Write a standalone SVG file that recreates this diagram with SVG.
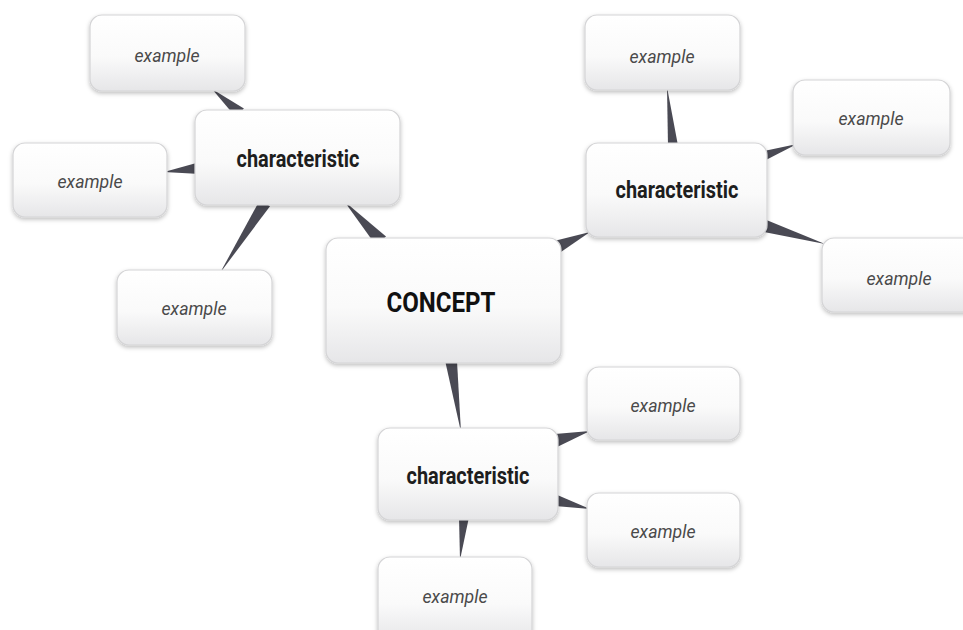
<svg xmlns="http://www.w3.org/2000/svg" width="963" height="630" viewBox="0 0 963 630">
<defs>
<linearGradient id="g" x1="0" y1="0" x2="0" y2="1">
<stop offset="0" stop-color="#ffffff"/>
<stop offset="0.55" stop-color="#fafafa"/>
<stop offset="1" stop-color="#e6e6e8"/>
</linearGradient>
<filter id="sh" x="-10%" y="-10%" width="120%" height="130%">
<feDropShadow dx="0" dy="2" stdDeviation="2" flood-color="#000" flood-opacity="0.25"/>
</filter>
</defs>
<style>
.box{fill:url(#g);stroke:#d4d4d6;stroke-width:1.2;filter:url(#sh)}
.w{fill:#4a4a54}
.ex{font-family:Roboto,"Liberation Sans",sans-serif;font-style:italic;font-size:19px;fill:#4a4a4a;text-anchor:middle}
.ch{font-family:Roboto,"Liberation Sans",sans-serif;font-weight:bold;font-size:23px;fill:#1e1e1e;text-anchor:middle}
.co{font-family:Roboto,"Liberation Sans",sans-serif;font-weight:bold;font-size:28px;fill:#111;text-anchor:middle}
</style>
<rect width="963" height="630" fill="#ffffff"/>
<g id="connectors">
<polygon class="w" points="386,236.5 376,245.5 344,201"/>
<polygon class="w" points="558,254 552,241.5 590,232"/>
<polygon class="w" points="456.9,359.2 445.1,360.8 461,432"/>
<polygon class="w" points="243.9,108.4 236.1,117.6 212,89"/>
<polygon class="w" points="200,162 200,174 164,172"/>
<polygon class="w" points="270,206.2 260,199.8 220,273"/>
<polygon class="w" points="678,145.5 668,146.5 667,87"/>
<polygon class="w" points="764,151 764,161 797,144"/>
<polygon class="w" points="764,219 764,232 825,244"/>
<polygon class="w" points="555,434 555,448 590,431"/>
<polygon class="w" points="555,494 555,506 590,509"/>
<polygon class="w" points="459,517 469,517 460,560"/>
</g>
<g id="ex-tl"><rect class="box" x="90" y="15" width="155" height="76" rx="12"/><text class="ex" x="167" y="62" textLength="65" lengthAdjust="spacingAndGlyphs">example</text></g>
<g id="ex-l"><rect class="box" x="13" y="143" width="154" height="74" rx="12"/><text class="ex" x="90" y="188" textLength="65" lengthAdjust="spacingAndGlyphs">example</text></g>
<g id="ex-bl"><rect class="box" x="117" y="270" width="155" height="75" rx="12"/><text class="ex" x="194" y="315" textLength="65" lengthAdjust="spacingAndGlyphs">example</text></g>
<g id="char-l"><rect class="box" x="195" y="110" width="205" height="95" rx="12"/><text class="ch" x="298" y="167" textLength="123" lengthAdjust="spacingAndGlyphs">characteristic</text></g>
<g id="concept"><rect class="box" x="326" y="238" width="235" height="125" rx="12"/><text class="co" x="441" y="312" textLength="109" lengthAdjust="spacingAndGlyphs">CONCEPT</text></g>
<g id="ex-tr1"><rect class="box" x="585" y="15" width="155" height="75" rx="12"/><text class="ex" x="662" y="63" textLength="65" lengthAdjust="spacingAndGlyphs">example</text></g>
<g id="ex-tr2"><rect class="box" x="793" y="80" width="157" height="75" rx="12"/><text class="ex" x="871" y="125" textLength="65" lengthAdjust="spacingAndGlyphs">example</text></g>
<g id="char-r"><rect class="box" x="586" y="143" width="181" height="94" rx="12"/><text class="ch" x="677" y="198" textLength="123" lengthAdjust="spacingAndGlyphs">characteristic</text></g>
<g id="ex-r3"><rect class="box" x="822" y="238" width="155" height="74" rx="12"/><text class="ex" x="899" y="285" textLength="65" lengthAdjust="spacingAndGlyphs">example</text></g>
<g id="char-b"><rect class="box" x="378" y="428" width="180" height="92" rx="12"/><text class="ch" x="468" y="484" textLength="123" lengthAdjust="spacingAndGlyphs">characteristic</text></g>
<g id="ex-b1"><rect class="box" x="587" y="367" width="153" height="73" rx="12"/><text class="ex" x="663" y="412" textLength="65" lengthAdjust="spacingAndGlyphs">example</text></g>
<g id="ex-b2"><rect class="box" x="587" y="493" width="153" height="74" rx="12"/><text class="ex" x="663" y="538" textLength="65" lengthAdjust="spacingAndGlyphs">example</text></g>
<g id="ex-b3"><rect class="box" x="378" y="557" width="154" height="85" rx="12"/><text class="ex" x="455" y="603" textLength="65" lengthAdjust="spacingAndGlyphs">example</text></g>
</svg>
